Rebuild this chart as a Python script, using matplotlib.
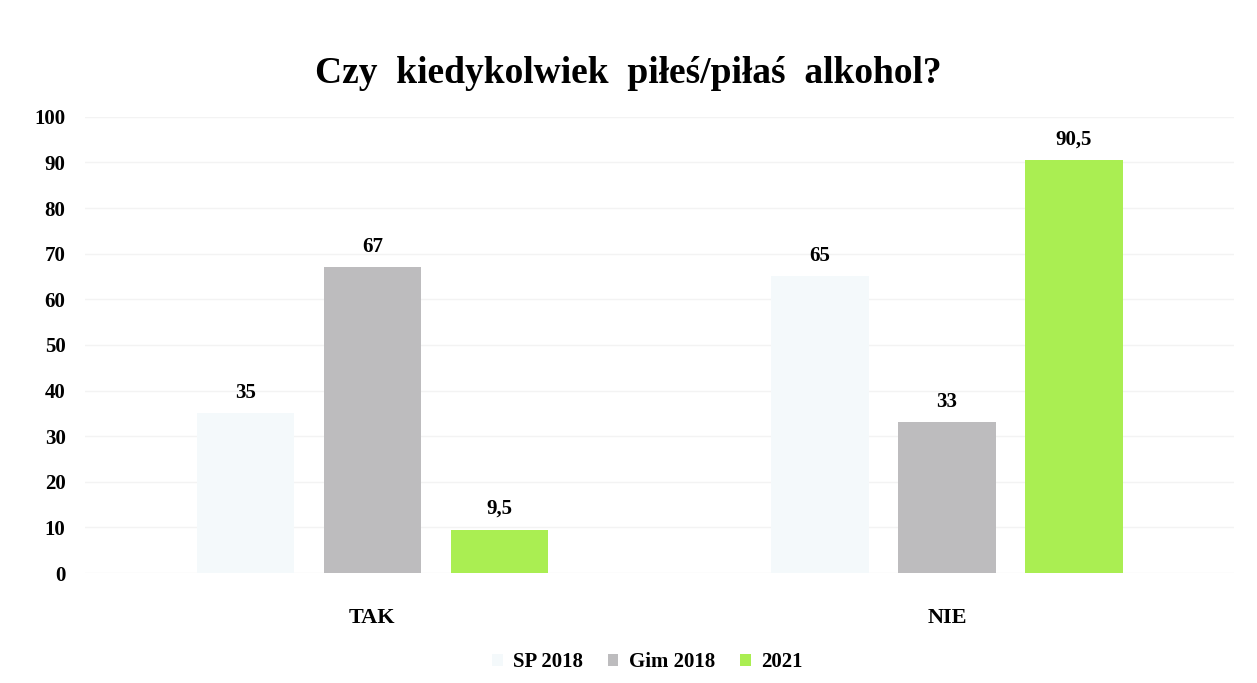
import matplotlib.pyplot as plt
import numpy as np

# ================= DATA =================
categories = ["TAK", "NIE"]
series = ["SP 2018", "Gim 2018", "2021"]
sp_2018 = [35, 65]
gim_2018 = [67, 33]
y_2021 = [9.5, 90.5]
colors = ["#f4f9fb", "#bdbcbe", "#aaee52"]

plt.rcParams["font.family"] = ["Liberation Serif", "DejaVu Serif"]
plt.rcParams["font.weight"] = "bold"

fig = plt.figure(figsize=(12.57, 6.83), dpi=100)
ax = fig.add_axes([0.0676, 0.161, 0.9144, 0.668])

x = np.arange(len(categories))
width = 0.169
offset = 0.221

for i, (name, vals) in enumerate(zip(series, [sp_2018, gim_2018, y_2021])):
    bars = ax.bar(x + (i - 1) * offset, vals, width, color=colors[i], label=name, zorder=2)
    for b, v in zip(bars, vals):
        txt = ("%g" % v).replace(".", ",")
        ax.annotate(txt, (b.get_x() + b.get_width() / 2, v),
                    xytext=(0, 15), textcoords="offset points",
                    ha="center", va="center", fontsize=15, fontweight="bold")

ax.set_xlim(-0.5, 1.5)
ax.set_ylim(0, 100)
ax.set_yticks(range(0, 101, 10))
ax.set_xticks(x)
ax.set_xticklabels(categories)
ax.tick_params(axis="both", length=0)
ax.tick_params(axis="y", pad=14, labelsize=15)
ax.tick_params(axis="x", pad=25, labelsize=16)
ax.yaxis.grid(True, color="#f3f3f3", linewidth=1, zorder=0)
for s in ax.spines.values():
    s.set_visible(False)

ax.set_title("Czy  kiedykolwiek  piłeś/piłaś  alkohol?", fontsize=27, fontweight="bold",
             pad=24, x=0.473)

fig.legend(loc="lower center", ncol=3, frameon=False, fontsize=15,
           bbox_to_anchor=(0.515, -0.012), handlelength=0.5, handleheight=0.5,
           handletextpad=0.5, columnspacing=1.2)

plt.savefig("out.png")
